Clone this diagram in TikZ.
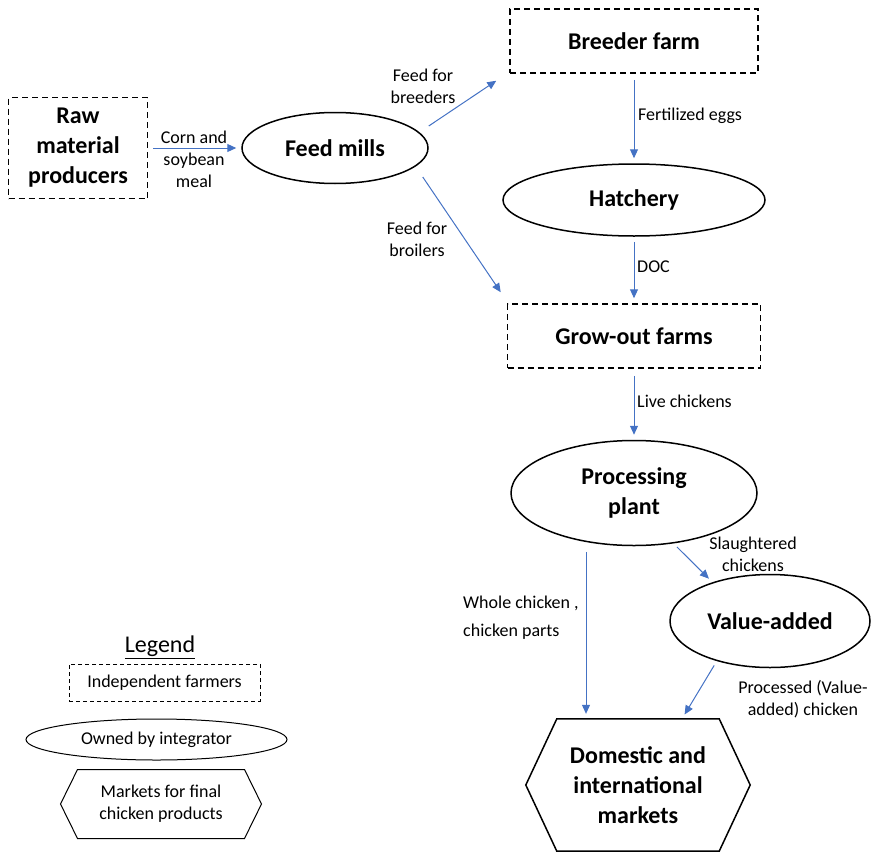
\documentclass[tikz,border=0pt]{standalone}
\usepackage{fontspec}
\setmainfont{Carlito}
\usetikzlibrary{shapes.geometric,arrows.meta}
\definecolor{arrowc}{RGB}{68,114,196}
\tikzstyle{farm} = [
  draw,
  dash pattern=on 6pt off 4pt,
  line width=1.5pt,
  inner sep=0pt,
  align=center,
  font=\fontsize{24}{30}\selectfont\bfseries,
]
\tikzstyle{owned} = [
  draw,
  ellipse,
  line width=1.5pt,
  inner sep=0pt,
  align=center,
  font=\fontsize{24}{30}\selectfont\bfseries,
]
\tikzstyle{market} = [
  inner sep=0pt,
  align=center,
  font=\fontsize{24}{30}\selectfont\bfseries,
]
\tikzstyle{flow} = [
  draw=arrowc,
  line width=1pt,
  -{Triangle[length=9pt,width=8pt]},
]
\tikzstyle{lbl} = [inner sep=0pt, align=center, font=\fontsize{18}{22}\selectfont]
\tikzstyle{legitem} = [inner sep=0pt, line width=1pt, align=center, font=\fontsize{18}{22}\selectfont]
\newcommand{\hexframe}[3][]{%
  \draw[#1] ([xshift=#3]#2.north west) -- ([xshift=-#3]#2.north east) -- (#2.east)
    -- ([xshift=-#3]#2.south east) -- ([xshift=#3]#2.south west) -- (#2.west) -- cycle;}

\begin{document}
\begin{tikzpicture}[x=1pt,y=-1pt]
      \useasboundingbox (0,0) rectangle (872,851);

      % Chain
      \node[farm, minimum width=139pt, minimum height=101pt] (raw) at (78,148) {Raw\\material\\producers};
      \node[owned, minimum width=186pt, minimum height=71pt] (feed) at (335,148) {Feed mills};
      \node[farm, minimum width=248pt, minimum height=64pt] (breeder) at (634,41) {Breeder farm};
      \node[owned, minimum width=262pt, minimum height=72pt] (hatchery) at (634,200) {Hatchery};
      \node[farm, minimum width=253pt, minimum height=64pt] (growout) at (634,336) {Grow-out farms};
      \node[owned, minimum width=246pt, minimum height=105pt] (proc) at (634,493) {Processing\\plant};
      \node[owned, minimum width=200pt, minimum height=93pt] (value) at (770,621) {Value-added};
      \node[market, minimum width=224pt, minimum height=132pt] (markets) at (638,785) {Domestic and\\international\\markets};
      \hexframe[line width=1.5pt]{markets}{31pt}

      % Flows
      \draw[flow, shorten <=5pt, shorten >=5pt] (raw) -- (feed);
      \draw[flow] ([yshift=22pt]feed.east) -- ([xshift=-13pt,yshift=-7pt]breeder.south west);
      \draw[flow] ([xshift=-6pt,yshift=-29pt]feed.east) -- ([xshift=-6pt,yshift=11pt]growout.north west);
      \draw[flow, shorten <=6pt, shorten >=5pt] (breeder) -- (hatchery);
      \draw[flow, shorten <=5pt, shorten >=5pt] (hatchery) -- (growout);
      \draw[flow, shorten <=7pt, shorten >=5pt] (growout) -- (proc);
      \draw[flow, shorten <=5pt, shorten >=5pt] (proc.-52) -- (value.146);
      \draw[flow, shorten <=5.5pt, shorten >=5pt] ([xshift=-48pt]proc.south) -- ([xshift=-52pt]markets.north);
      \draw[flow, shorten <=5pt, shorten >=5pt] (value.217) -- ([xshift=44pt]markets.north);

      % Labels
      \node[lbl] (corn) at (194,159) {Corn and\\soybean\\meal};
      \node[lbl] (breedfeed) at (423,86) {Feed for\\breeders};
      \node[lbl] (broilfeed) at (417,239) {Feed for\\broilers};
      \node[lbl, anchor=west] (eggs) at (638,116) {Fertilized eggs};
      \node[lbl, anchor=west] (doc) at (637,267) {DOC};
      \node[lbl, anchor=west] (live) at (637,401) {Live chickens};
      \node[lbl] (slaughter) at (753,554) {Slaughtered\\chickens};
      \node[lbl, anchor=west, align=left, font=\fontsize{18}{28}\selectfont] (whole) at (463,618) {Whole chicken ,\\chicken parts};
      \node[lbl] (processed) at (803,699) {Processed (Value-\\added) chicken};

      % Legend
      \node[inner sep=0pt, font=\fontsize{24}{30}\selectfont] (legend) at (160,647) {\underline{Legend}};
      \node[legitem, draw, dash pattern=on 4pt off 3pt, minimum width=191pt, minimum height=37pt] (legfarm) at (164.5,682.5) {Independent farmers};
      \node[legitem, draw, ellipse, minimum width=261pt, minimum height=41pt] (legowned) at (156.5,739.5) {Owned by integrator};
      \node[legitem, minimum width=200pt, minimum height=68pt] (legmarket) at (161,804) {Markets for final\\chicken products};
      \hexframe[line width=1pt]{legmarket}{17pt}
    \end{tikzpicture}
\end{document}
